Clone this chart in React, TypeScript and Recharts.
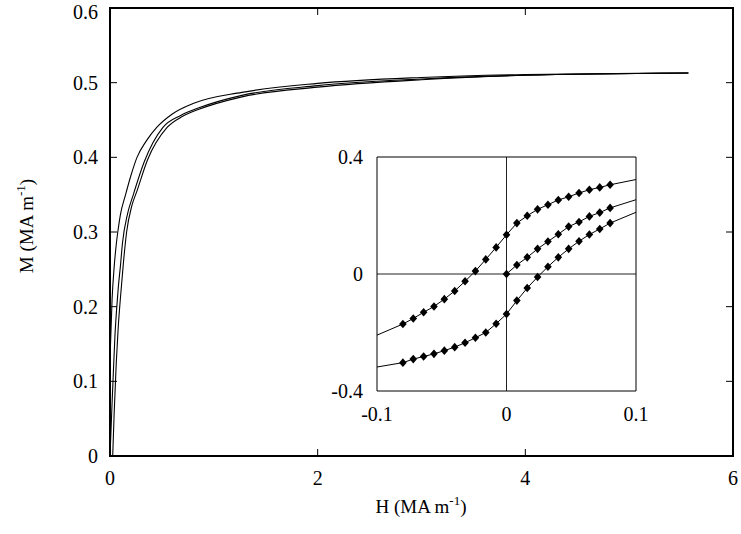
import { LineChart, Line, XAxis, YAxis, ReferenceLine } from "recharts";

// main plot: M vs H, three branches
const mainXDomain = [0, 6];
const mainYDomain = [0, 0.6];
const mainXTicks = [0, 2, 4, 6];
const mainYTicks = [0, 0.1, 0.2, 0.3, 0.4, 0.5, 0.6];

const upperH = [0, 0.02, 0.04, 0.06, 0.08, 0.1, 0.15, 0.2, 0.26, 0.35, 0.45, 0.6, 0.8, 1.27, 2.0, 3.0, 4.0, 5.57];
const upperM = [0.13, 0.21, 0.253, 0.283, 0.305, 0.323, 0.35, 0.375, 0.4, 0.422, 0.44, 0.458, 0.472, 0.487, 0.499, 0.507, 0.511, 0.513];

const initialH = [0, 0.016, 0.032, 0.048, 0.064, 0.08, 0.1, 0.12, 0.17, 0.22, 0.33, 0.51, 0.68, 0.85, 1.27, 2.0, 3.0, 4.0, 5.57];
const initialM = [0, 0.057, 0.111, 0.162, 0.197, 0.226, 0.254, 0.285, 0.325, 0.348, 0.394, 0.44, 0.456, 0.466, 0.483, 0.496, 0.505, 0.51, 0.513];

const lowerH = [0.026, 0.04, 0.06, 0.08, 0.1, 0.13, 0.16, 0.21, 0.26, 0.36, 0.55, 0.7, 0.85, 1.27, 2.0, 3.0, 4.0, 5.57];
const lowerM = [0, 0.057, 0.124, 0.174, 0.211, 0.26, 0.3, 0.335, 0.355, 0.396, 0.44, 0.455, 0.464, 0.481, 0.494, 0.504, 0.51, 0.513];

// inset: low-field loop, measured points + curve ends at the frame
const insetXTicks = [-0.1, 0, 0.1];
const insetYTicks = [-0.4, 0, 0.4];

const insetH = [-0.08, -0.072, -0.064, -0.056, -0.048, -0.04, -0.032, -0.024, -0.016, -0.008, 0, 0.008, 0.016, 0.024, 0.032, 0.04, 0.048, 0.056, 0.064, 0.072, 0.08];
const insetUpperM = [-0.171, -0.152, -0.131, -0.111, -0.086, -0.058, -0.025, 0.01, 0.05, 0.091, 0.134, 0.174, 0.199, 0.221, 0.237, 0.253, 0.264, 0.277, 0.288, 0.296, 0.305];
const insetLowerM = [-0.303, -0.291, -0.282, -0.273, -0.262, -0.25, -0.235, -0.218, -0.2, -0.17, -0.137, -0.091, -0.048, -0.01, 0.025, 0.057, 0.086, 0.112, 0.135, 0.154, 0.174];

const insetInitialH = [0, 0.008, 0.016, 0.024, 0.032, 0.04, 0.048, 0.056, 0.064, 0.072, 0.08];
const insetInitialM = [0, 0.031, 0.057, 0.086, 0.111, 0.136, 0.162, 0.178, 0.197, 0.21, 0.226];

const insetEdgeH = [-0.1, 0.1];
const insetUpperEdgeM = [-0.209, 0.323];
const insetLowerEdgeM = [-0.318, 0.211];
const insetInitialEdgeM = [0.254];

type Pt = { h: number; m: number; mark: boolean };

const toPoints = (hs: number[], ms: number[], mark = false): Pt[] =>
  hs.map((h, i) => ({ h, m: ms[i], mark }));

const upper = toPoints(upperH, upperM);
const initial = toPoints(initialH, initialM);
const lower = toPoints(lowerH, lowerM);

const insetUpper = [
  ...toPoints([insetEdgeH[0]], [insetUpperEdgeM[0]]),
  ...toPoints(insetH, insetUpperM, true),
  ...toPoints([insetEdgeH[1]], [insetUpperEdgeM[1]]),
];
const insetLower = [
  ...toPoints([insetEdgeH[0]], [insetLowerEdgeM[0]]),
  ...toPoints(insetH, insetLowerM, true),
  ...toPoints([insetEdgeH[1]], [insetLowerEdgeM[1]]),
];
const insetInitial = [
  ...toPoints(insetInitialH, insetInitialM, true),
  ...toPoints([insetEdgeH[1]], insetInitialEdgeM),
];

const FONT = "'Liberation Serif', 'Times New Roman', Times, serif";
const FS = 20;
const tickFont = { fill: "#000", fontSize: FS, fontFamily: FONT };
const frame = { stroke: "#000", strokeWidth: 2 };
const thin = { stroke: "#000", strokeWidth: 1 };

// main plot box in pixels (741x534 canvas) and inward tick length
const W = 741;
const H = 534;
const BOX = { left: 110, right: 733, top: 8, bottom: 456 };
const TICK = 7;

// same linear mapping as the main chart's axes, for the frame overlay
const px = (v: number) =>
  BOX.left + ((v - mainXDomain[0]) / (mainXDomain[1] - mainXDomain[0])) * (BOX.right - BOX.left);
const py = (v: number) =>
  BOX.bottom - ((v - mainYDomain[0]) / (mainYDomain[1] - mainYDomain[0])) * (BOX.bottom - BOX.top);

function Diamond(props: any) {
  const { cx, cy, payload, index } = props;
  if (!payload || !payload.mark) return <g key={`n-${index}`} />;
  return (
    <path
      key={`d-${index}`}
      d={`M${cx},${cy - 4.3}L${cx + 3.8},${cy}L${cx},${cy + 4.3}L${cx - 3.8},${cy}Z`}
      fill="#000"
    />
  );
}

// titles, box and inward ticks of the main plot
function Overlay() {
  return (
    <svg width={W} height={H} style={{ position: "absolute", left: 0, top: 0, pointerEvents: "none" }}>
      <rect
        x={BOX.left}
        y={BOX.top}
        width={BOX.right - BOX.left}
        height={BOX.bottom - BOX.top}
        fill="none"
        stroke="#000"
        strokeWidth={2}
      />
      {mainXTicks.slice(1, -1).map((t) => (
        <g key={`xt-${t}`}>
          <line x1={px(t)} x2={px(t)} y1={BOX.bottom} y2={BOX.bottom - TICK} stroke="#000" strokeWidth={1} />
          <line x1={px(t)} x2={px(t)} y1={BOX.top} y2={BOX.top + TICK} stroke="#000" strokeWidth={1} />
        </g>
      ))}
      {mainYTicks.slice(1, -1).map((t) => (
        <g key={`yt-${t}`}>
          <line x1={BOX.left} x2={BOX.left + TICK} y1={py(t)} y2={py(t)} stroke="#000" strokeWidth={1} />
          <line x1={BOX.right} x2={BOX.right - TICK} y1={py(t)} y2={py(t)} stroke="#000" strokeWidth={1} />
        </g>
      ))}
      <text x={421} y={513} textAnchor="middle" fontSize={19} fontFamily={FONT} fill="#000">
        H (MA m
        <tspan dy={-8} fontSize={13}>-1</tspan>
        <tspan dy={8}>)</tspan>
      </text>
      <text transform="translate(33,226) rotate(-90)" textAnchor="middle" fontSize={19} fontFamily={FONT} fill="#000">
        M (MA m
        <tspan dy={-8} fontSize={13}>-1</tspan>
        <tspan dy={8}>)</tspan>
      </text>
    </svg>
  );
}

function MainChart() {
  return (
    <LineChart
      width={W}
      height={H}
      margin={{ top: BOX.top - 1, right: W - BOX.right - 1, bottom: H - BOX.bottom - 1, left: BOX.left - 1 }}
    >
      <XAxis
        xAxisId="b"
        type="number"
        dataKey="h"
        domain={mainXDomain}
        ticks={mainXTicks}
        allowDataOverflow
        height={1}
        tickSize={0}
        tickMargin={15}
        axisLine={frame}
        tickLine={false}
        tick={tickFont}
      />
      <XAxis
        xAxisId="t"
        orientation="top"
        type="number"
        dataKey="h"
        domain={mainXDomain}
        ticks={mainXTicks}
        allowDataOverflow
        height={1}
        tickSize={0}
        axisLine={frame}
        tickLine={false}
        tick={false}
      />
      <YAxis
        yAxisId="l"
        type="number"
        domain={mainYDomain}
        ticks={mainYTicks}
        allowDataOverflow
        width={1}
        tickSize={0}
        tickMargin={12}
        axisLine={frame}
        tickLine={false}
        tick={tickFont}
      />
      <YAxis
        yAxisId="r"
        orientation="right"
        type="number"
        domain={mainYDomain}
        ticks={mainYTicks}
        allowDataOverflow
        width={1}
        tickSize={0}
        axisLine={frame}
        tickLine={false}
        tick={false}
      />
      {[upper, initial, lower].map((d, i) => (
        <Line
          key={i}
          xAxisId="b"
          yAxisId="l"
          data={d}
          dataKey="m"
          type="monotone"
          stroke="#000"
          strokeWidth={1.1}
          dot={false}
          activeDot={false}
          isAnimationActive={false}
        />
      ))}
    </LineChart>
  );
}

function InsetChart() {
  return (
    <LineChart width={340} height={300} margin={{ top: 19, right: 20, bottom: 45, left: 59 }}>
      <XAxis
        xAxisId="b"
        type="number"
        dataKey="h"
        domain={[-0.1, 0.1]}
        ticks={insetXTicks}
        allowDataOverflow
        height={1}
        tickSize={0}
        tickMargin={16}
        axisLine={thin}
        tickLine={false}
        tick={tickFont}
      />
      <XAxis
        xAxisId="t"
        orientation="top"
        type="number"
        dataKey="h"
        domain={[-0.1, 0.1]}
        ticks={insetXTicks}
        allowDataOverflow
        height={1}
        tickSize={0}
        axisLine={thin}
        tickLine={false}
        tick={false}
      />
      <YAxis
        yAxisId="l"
        type="number"
        domain={[-0.4, 0.4]}
        ticks={insetYTicks}
        allowDataOverflow
        width={1}
        tickSize={0}
        tickMargin={14}
        axisLine={thin}
        tickLine={false}
        tick={tickFont}
      />
      <YAxis
        yAxisId="r"
        orientation="right"
        type="number"
        domain={[-0.4, 0.4]}
        ticks={insetYTicks}
        allowDataOverflow
        width={1}
        tickSize={0}
        axisLine={thin}
        tickLine={false}
        tick={false}
      />
      <ReferenceLine xAxisId="b" yAxisId="l" x={0} stroke="#222" strokeWidth={1} />
      <ReferenceLine xAxisId="b" yAxisId="l" y={0} stroke="#222" strokeWidth={1} />
      {[insetUpper, insetInitial, insetLower].map((d, i) => (
        <Line
          key={i}
          xAxisId="b"
          yAxisId="l"
          data={d}
          dataKey="m"
          type="linear"
          stroke="#000"
          strokeWidth={1}
          dot={Diamond}
          activeDot={false}
          isAnimationActive={false}
        />
      ))}
    </LineChart>
  );
}

export default function App() {
  return (
    <div style={{ position: "absolute", left: 0, top: 0, width: W, height: H, background: "#fff" }}>
      <div style={{ position: "absolute", left: 0, top: 0 }}>
        <MainChart />
      </div>
      <div style={{ position: "absolute", left: 317, top: 137 }}>
        <InsetChart />
      </div>
      <Overlay />
    </div>
  );
}
